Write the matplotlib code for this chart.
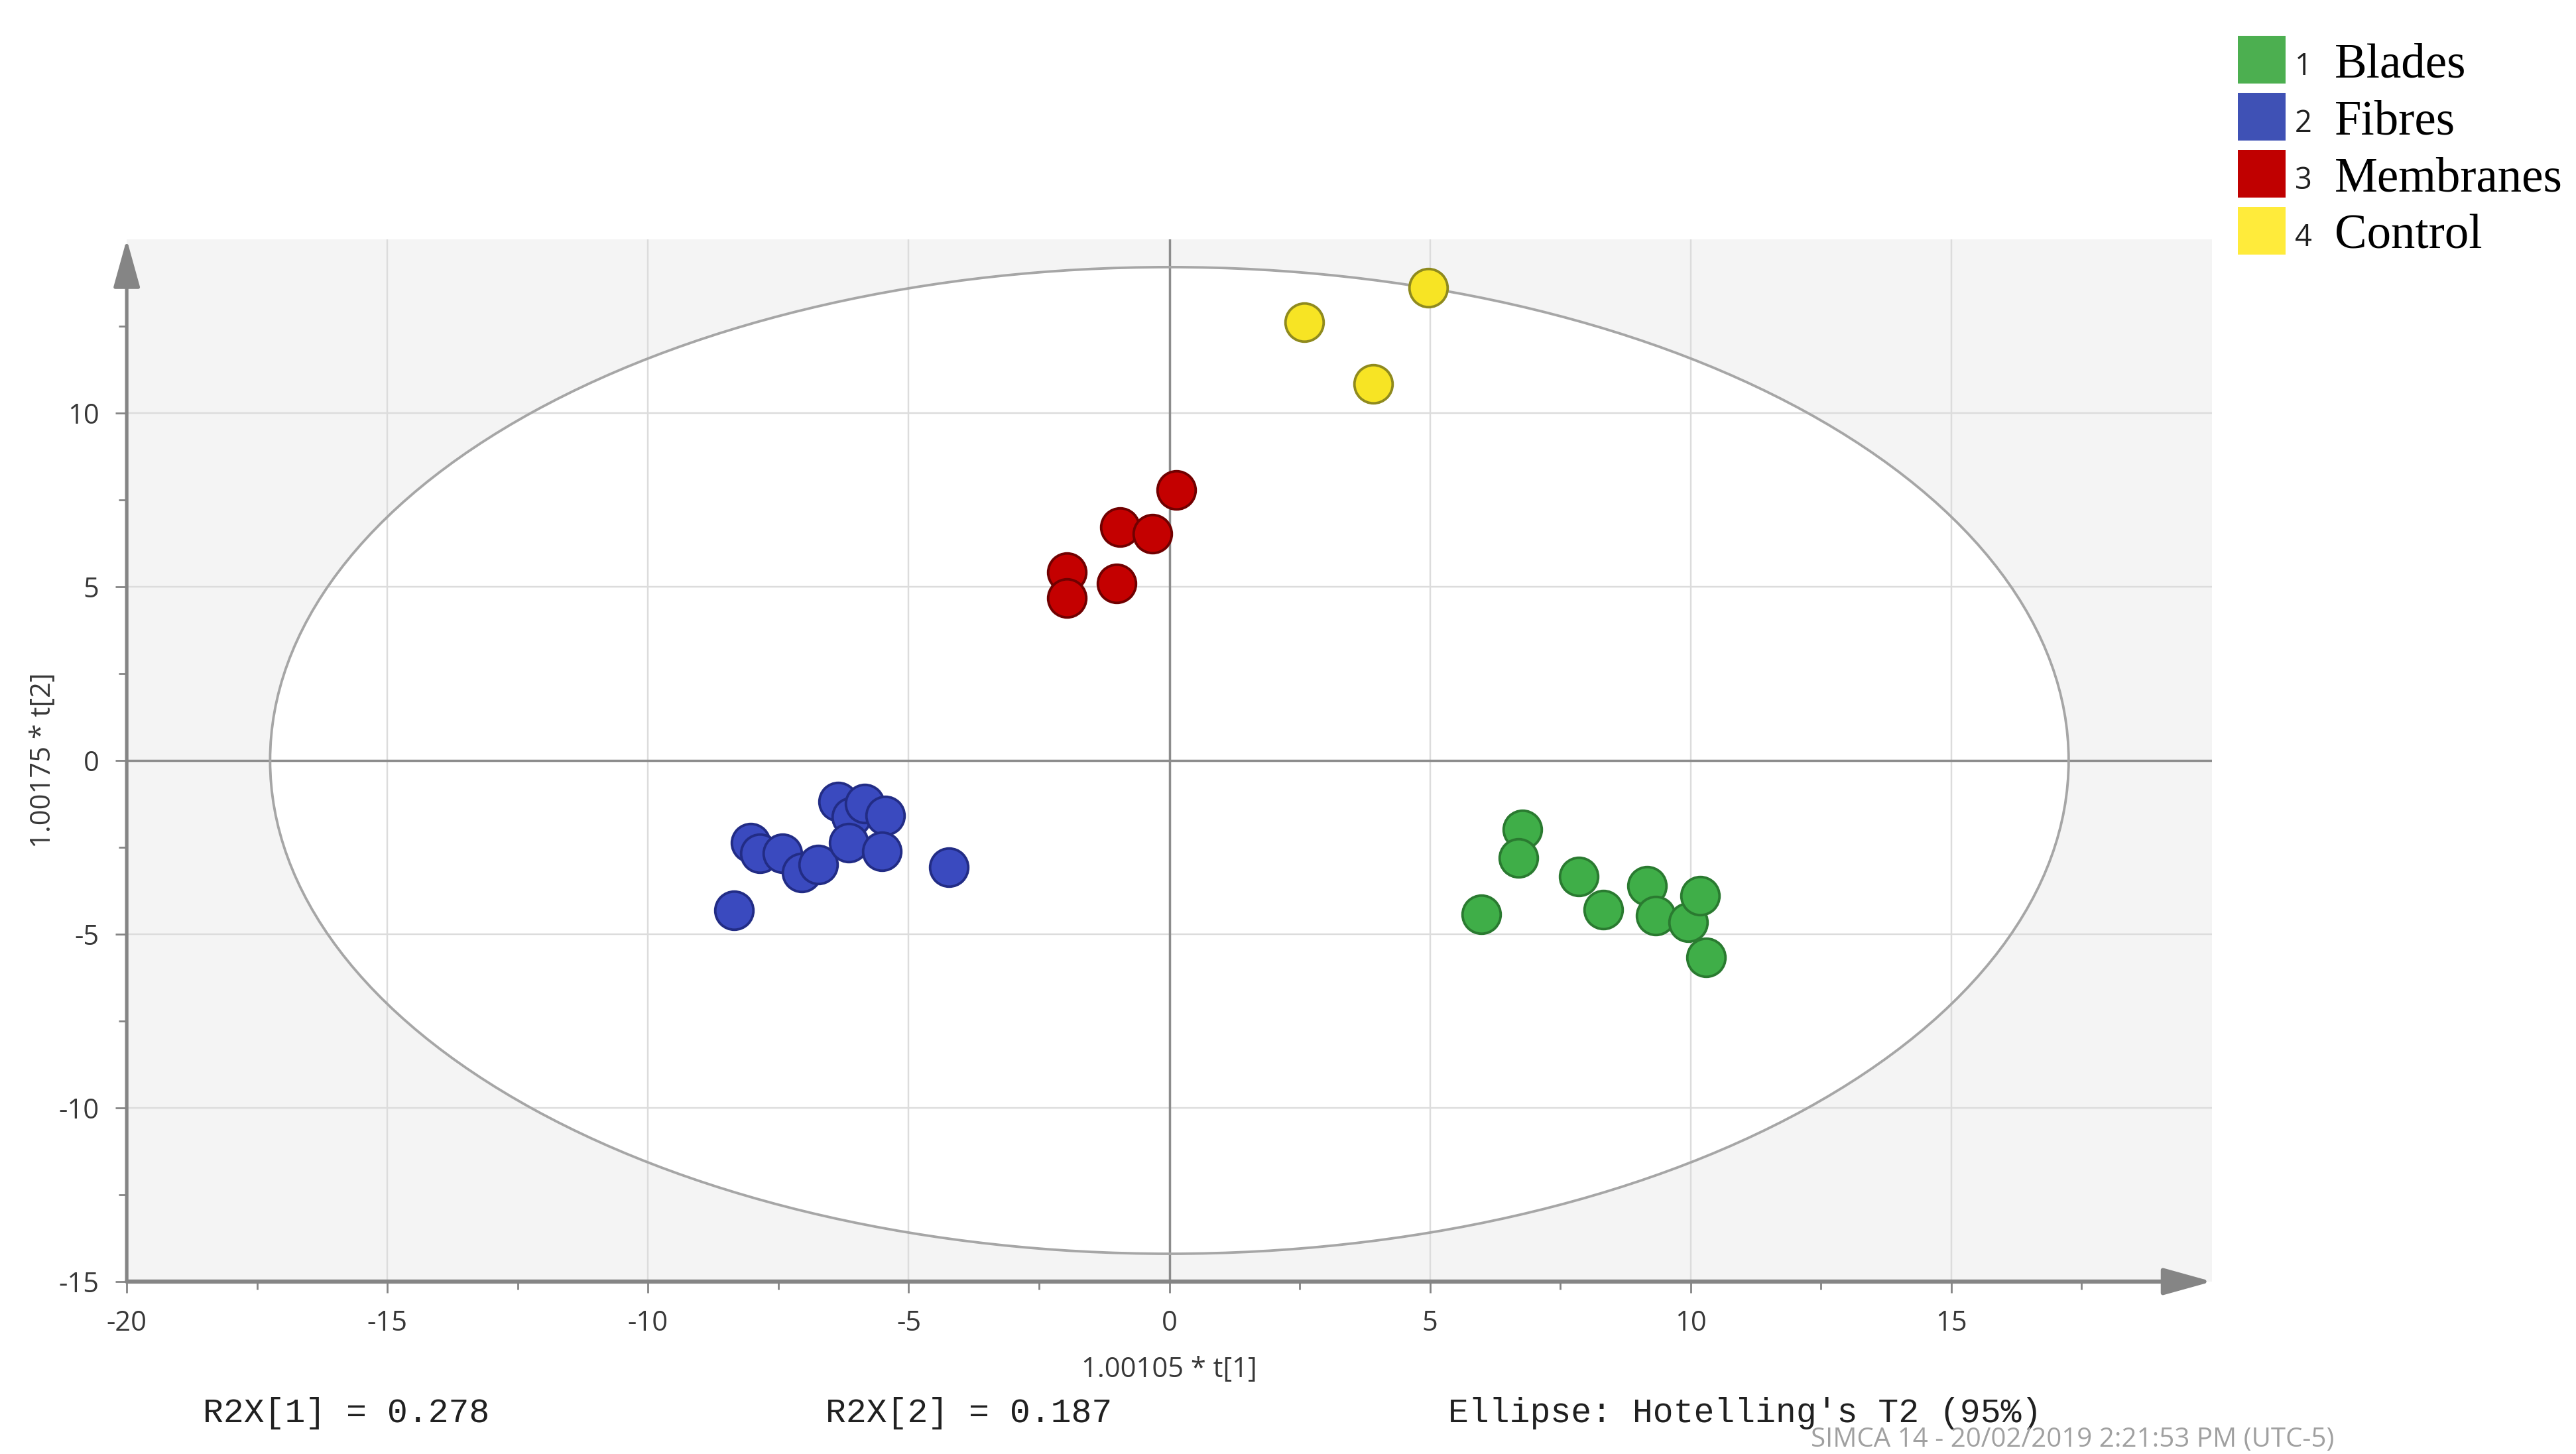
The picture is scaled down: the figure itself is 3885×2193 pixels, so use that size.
import numpy as np
import matplotlib.pyplot as plt
from matplotlib.patches import Ellipse, Rectangle

plt.rcParams['axes.unicode_minus'] = False

# score values
blades_x = [5.98, 6.77, 6.70, 7.85, 8.32, 9.16, 9.33, 9.95, 10.18, 10.29]
blades_y = [-4.43, -1.98, -2.80, -3.35, -4.30, -3.60, -4.46, -4.65, -3.89, -5.67]
fibres_x = [-8.35, -8.03, -7.86, -7.42, -7.05, -6.74, -6.35, -6.10, -5.84, -6.15, -5.45, -5.52, -4.23]
fibres_y = [-4.32, -2.36, -2.68, -2.68, -3.22, -3.00, -1.18, -1.63, -1.24, -2.36, -1.59, -2.61, -3.07]
membranes_x = [0.13, -0.95, -0.33, -1.97, -1.97, -1.01]
membranes_y = [7.79, 6.72, 6.53, 5.42, 4.68, 5.10]
control_x = [2.59, 4.97, 3.91]
control_y = [12.62, 13.61, 10.83]

groups = ['Blades', 'Fibres', 'Membranes', 'Control']
fills = ['#3fae48', '#3a4abf', '#c40000', '#f7e424']
edges = ['#2a7a30', '#222c85', '#700000', '#8f8a1e']
legend_cols = ['#4caf50', '#3f51b5', '#c00000', '#ffeb3b']

ell_a = 17.25
ell_b = 14.2
r2x = [0.278, 0.187]

xticks = [-20, -15, -10, -5, 0, 5, 10, 15]
yticks = [-15, -10, -5, 0, 5, 10]

fig = plt.figure(figsize=(15.54, 8.772), dpi=250)
ax = fig.add_axes([0.0492, 0.1186, 0.8095, 0.7168])
ax.set_facecolor('#f4f4f4')
ax.set_xlim(-20, 20)
ax.set_ylim(-15, 15)

# white inside of the Hotelling ellipse
ax.add_patch(Ellipse((0, 0), 2 * ell_a, 2 * ell_b, facecolor='white', edgecolor='none', zorder=0.5))

for v in xticks[1:]:
    if v == 0:
        ax.axvline(v, color='#8c8c8c', lw=1.0, zorder=1.2)
    else:
        ax.axvline(v, color='#dcdcdc', lw=0.7, zorder=1)
for v in yticks[1:]:
    if v == 0:
        ax.axhline(v, color='#8c8c8c', lw=1.0, zorder=1.2)
    else:
        ax.axhline(v, color='#dcdcdc', lw=0.7, zorder=1)

ax.add_patch(Ellipse((0, 0), 2 * ell_a, 2 * ell_b, facecolor='none', edgecolor='#a6a6a6', lw=1.1, zorder=2))

xs = [blades_x, fibres_x, membranes_x, control_x]
ys = [blades_y, fibres_y, membranes_y, control_y]
for i in range(4):
    ax.scatter(xs[i], ys[i], s=275, c=fills[i], edgecolors=edges[i], linewidths=1.1, zorder=3)

for s in ax.spines.values():
    s.set_visible(False)

# axis lines with arrow heads
ax.annotate('', xy=(0, 1.0), xytext=(0, 0), xycoords='axes fraction',
            arrowprops=dict(arrowstyle='-|>,head_length=0.9,head_width=0.25', color='#858585',
                            lw=1.5, mutation_scale=20, shrinkA=0, shrinkB=0), zorder=4)
ax.annotate('', xy=(1.0, 0), xytext=(0, 0), xycoords='axes fraction',
            arrowprops=dict(arrowstyle='-|>,head_length=0.9,head_width=0.25', color='#858585',
                            lw=1.8, mutation_scale=20, shrinkA=0, shrinkB=0), zorder=4)

ax.set_xticks(xticks)
ax.set_yticks(yticks)
ax.set_xticks(np.arange(-17.5, 20, 5), minor=True)
ax.set_yticks(np.arange(-12.5, 15, 5), minor=True)
ax.tick_params(which='major', direction='out', length=5, width=0.8, color='#858585',
               labelsize=12, labelcolor='#383838', pad=7)
ax.tick_params(which='minor', direction='out', length=3.5, width=0.8, color='#858585')
for lab in ax.get_xticklabels() + ax.get_yticklabels():
    lab.set_family('Open Sans')

ax.set_xlabel('1.00105 * t[1]', fontsize=12, family='Open Sans', color='#383838', labelpad=8)
ax.set_ylabel('1.00175 * t[2]', fontsize=12, family='Open Sans', color='#383838', labelpad=1)

fig.text(0.0788, 0.028, 'R2X[1] = %.3f' % r2x[0], fontsize=14.8, family='Liberation Mono', color='#202020', va='center')
fig.text(0.3205, 0.028, 'R2X[2] = %.3f' % r2x[1], fontsize=14.8, family='Liberation Mono', color='#202020', va='center')
fig.text(0.5622, 0.028, "Ellipse: Hotelling's T2 (95%)", fontsize=14.8, family='Liberation Mono', color='#202020', va='center')
fig.text(0.703, 0.0096, 'SIMCA 14 - 20/02/2019 2:21:53 PM (UTC-5)', fontsize=11.6, family='Open Sans',
         color='#a0a0a0', ha='left', va='center')

# group legend top right
sq_w = 72 / 3885
sq_h = 72 / 2193
centers = [0.959, 0.9197, 0.8805, 0.8413]
for i in range(4):
    fig.add_artist(Rectangle((0.8687, centers[i] - sq_h / 2), sq_w, sq_h, transform=fig.transFigure,
                             facecolor=legend_cols[i], edgecolor='none'))
    fig.text(0.8942, centers[i] - 0.005, str(i + 1), fontsize=13, family='Open Sans', color='#202020',
             ha='center', va='center')
    fig.text(0.9063, centers[i] - 0.004, groups[i], fontsize=21, family='Liberation Serif', color='black',
             ha='left', va='center')

fig.savefig('out.png', dpi=250)
